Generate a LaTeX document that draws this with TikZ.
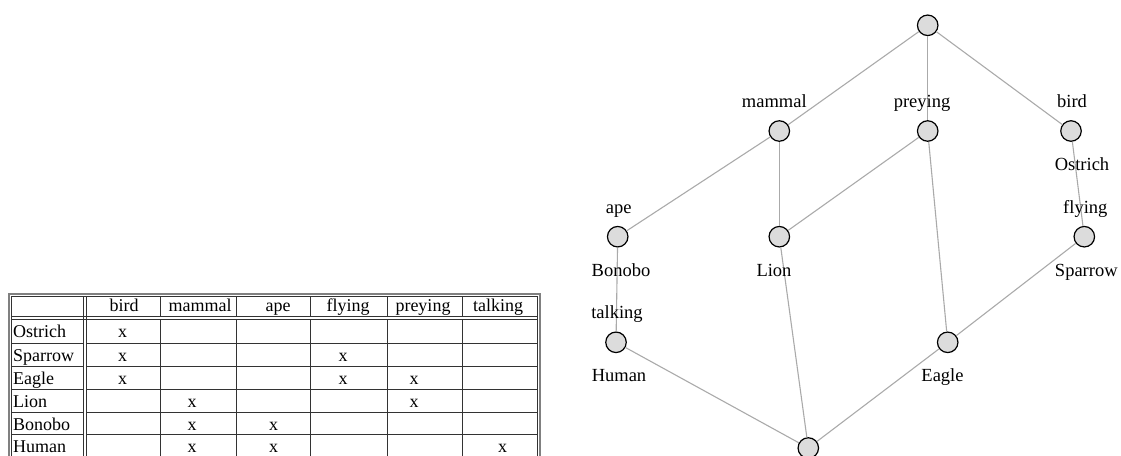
\documentclass[tikz,border=0pt]{standalone}
\usepackage{fontspec}
\setmainfont{Liberation Serif}
\definecolor{edgegray}{HTML}{AAAAAA}
\definecolor{conceptfill}{HTML}{DCDCDC}
\definecolor{frameouter}{HTML}{808080}
\definecolor{frameinner}{HTML}{333333}
\newcommand{\latfont}{\fontsize{18.5}{22}\selectfont}
\newcommand{\tabfont}{\fontsize{18}{21}\selectfont}
\tikzset{
  concept/.style={circle, draw=black, fill=conceptfill, line width=1.2pt,
                  minimum size=20.5pt, inner sep=0pt},
  edge/.style={draw=edgegray, line width=1.1pt},
  lbl/.style={anchor=base, inner sep=0pt, font=\latfont},
  outerframe/.style={draw=frameouter, line width=1.6pt},
  rule/.style={draw=frameinner, line width=1pt},
  colhead/.style={anchor=base, inner sep=0pt, font=\tabfont},
  rowhead/.style={anchor=base west, inner sep=0pt, font=\tabfont},
  xcell/.style={anchor=base, inner sep=0pt, font=\tabfont},
}
\begin{document}
\begin{tikzpicture}[x=1pt,y=-1pt]
\useasboundingbox (0,0) rectangle (1121,455);
\clip (0,0) rectangle (1121,455);

% ---------- cross table ----------
\draw[outerframe] (9,294) rectangle (540,470);
\draw[rule] (11.5,296) rectangle (537,470);
% header separator (double)
\draw[rule] (11.5,316) -- (537,316);
\draw[rule] (11.5,319) -- (537,319);
% first column separator (double)
\draw[rule] (83.5,296) -- (83.5,470);
\draw[rule] (86.5,296) -- (86.5,470);
% remaining column rules
\foreach \cx in {160,236.7,310.7,387.3,462.7}
  \draw[rule] (\cx,296) -- (\cx,316) (\cx,319) -- (\cx,470);
% row rules
\foreach \ry in {343.5,366.7,389.5,412,434.7}
  \draw[rule] (11.5,\ry) -- (83.5,\ry) (86.5,\ry) -- (537,\ry);

% column headings
\foreach \nm/\cx in {bird/124, mammal/200, ape/278, flying/348, preying/423, talking/498}
  \node[colhead] (head-\nm) at (\cx,311) {\nm};

% object names
\foreach \nm/\ry in {Ostrich/337.5, Sparrow/361.5, Eagle/384.5, Lion/407, Bonobo/430, Human/452.5}
  \node[rowhead] (obj-\nm) at (13,\ry) {\nm};

% incidences
\foreach \r/\c/\cx/\ry in {
  ostrich/bird/122.5/337.5,
  sparrow/bird/122.5/361.5, sparrow/flying/343/361.5,
  eagle/bird/122.5/384.5, eagle/flying/343/384.5, eagle/preying/414/384.5,
  lion/mammal/192/407, lion/preying/414/407,
  bonobo/mammal/192/430, bonobo/ape/273.7/430,
  human/mammal/192/452.5, human/ape/273.7/452.5, human/talking/502.5/452.5}
  \node[xcell] (inc-\r-\c) at (\cx,\ry) {x};

% ---------- concept lattice ----------
\node[concept] (top)     at (927.7,25.3)  {};
\node[concept] (mammal)  at (779.3,131)   {};
\node[concept] (preying) at (927.7,131)   {};
\node[concept] (bird)    at (1071,131)    {};
\node[concept] (ape)     at (617.7,236.7) {};
\node[concept] (lion)    at (779.3,236.7) {};
\node[concept] (flying)  at (1084.3,236.7){};
\node[concept] (human)   at (616,342.3)   {};
\node[concept] (eagle)   at (947.7,342.3) {};
\node[concept] (bottom)  at (808.3,448)   {};

\draw[edge] (top) -- (mammal);
\draw[edge] (top) -- (preying);
\draw[edge] (top) -- (bird);
\draw[edge] (mammal) -- (ape);
\draw[edge] (mammal) -- (lion);
\draw[edge] (preying) -- (lion);
\draw[edge] (preying) -- (eagle);
\draw[edge] (bird) -- (flying);
\draw[edge] (ape) -- (human);
\draw[edge] (flying) -- (eagle);
\draw[edge] (human) -- (bottom);
\draw[edge] (lion) -- (bottom);
\draw[edge] (eagle) -- (bottom);

% attribute labels (above)
\node[lbl] (lbl-mammal)  at (774.3,107.3) {mammal};
\node[lbl] (lbl-preying) at (922,107.3)   {preying};
\node[lbl] (lbl-bird)    at (1072,107.3)  {bird};
\node[lbl] (lbl-ape)     at (618.7,213)   {ape};
\node[lbl] (lbl-flying)  at (1085.3,213)  {flying};
\node[lbl] (lbl-talking) at (617,318.6)   {talking};
% object labels (below)
\node[lbl] (lbl-ostrich) at (1082,170.5)  {Ostrich};
\node[lbl] (lbl-bonobo)  at (621,276.5)   {Bonobo};
\node[lbl] (lbl-lion)    at (774,276.5)   {Lion};
\node[lbl] (lbl-sparrow) at (1086.3,276.5){Sparrow};
\node[lbl] (lbl-human)   at (619,381.8)   {Human};
\node[lbl] (lbl-eagle)   at (942.5,381.8) {Eagle};
\end{tikzpicture}
\end{document}
